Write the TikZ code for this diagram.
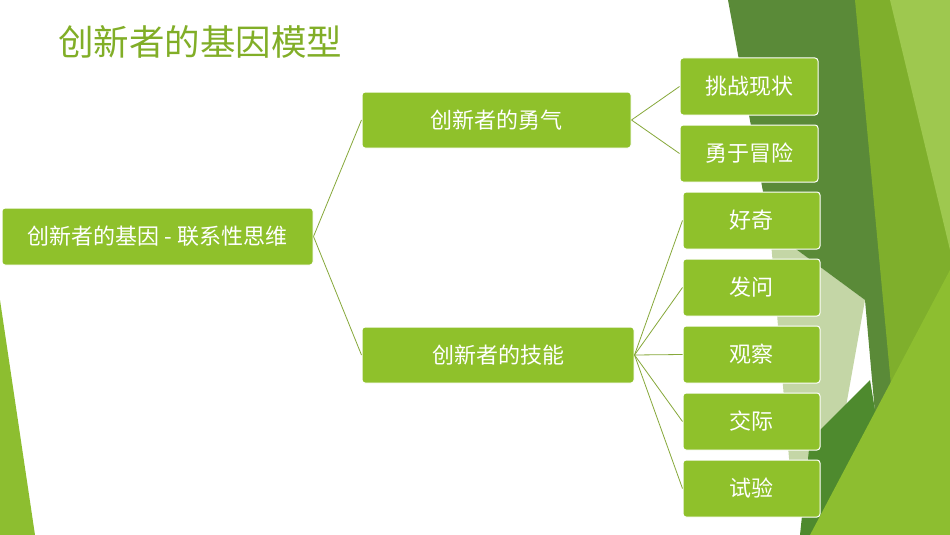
\documentclass[tikz,border=0pt]{standalone}
\usepackage{fontspec}
\setmainfont{Noto Sans CJK SC}
\begin{document}
\begin{tikzpicture}[x=1pt,y=-1pt,
  box/.style={draw=white,line width=1pt,fill=boxg,rounded corners=3pt,text=white,font=\fontsize{22}{26}\selectfont,inner sep=0pt},
  conn/.style={draw=lineg,line width=0.8pt}]
\definecolor{boxg}{HTML}{8FC12B}
\definecolor{lineg}{HTML}{86A83A}
\definecolor{dkg}{HTML}{5A8A38}
\definecolor{mdg}{HTML}{7FAF2C}
\definecolor{ltg}{HTML}{8DBE30}
\definecolor{pale}{HTML}{C4D6A6}
\definecolor{dkg2}{HTML}{4E8A2E}
\useasboundingbox (0,0) rectangle (950,535);
\fill[white] (0,0) rectangle (950,535);
% background
\fill[pale] (770,230) -- (865,300) -- (840,440) -- (790,470) -- cycle;
\fill[dkg] (728,0) -- (870,0) -- (905,535) -- (880,470) -- (865,300) -- (770,230) -- cycle;
\fill[mdg] (855,0) -- (950,0) -- (950,535) -- (905,535) -- cycle;
\fill[ltg!85!white] (890,0) -- (950,0) -- (950,250) -- cycle;
\fill[dkg2] (810,440) -- (870,380) -- (885,470) -- (830,535) -- (800,535) -- cycle;
\fill[ltg] (810,535) -- (950,270) -- (950,535) -- cycle;
\fill[ltg] (0,300) -- (35,535) -- (0,535) -- cycle;
% title
\node[anchor=west,text=boxg!90!black,font=\fontsize{35.5}{40}\selectfont,inner sep=0pt] (title) at (58,42) {创新者的基因模型};
% nodes
\node[box,minimum width=311,minimum height=57] (root) at (157.5,236.5) {创新者的基因 - 联系性思维};
\node[box,minimum width=269,minimum height=56] (cour) at (496.5,120) {创新者的勇气};
\node[box,minimum width=272,minimum height=56] (skill) at (498,355) {创新者的技能};
\node[box,minimum width=138,minimum height=57] (a1) at (749,86.5) {挑战现状};
\node[box,minimum width=138,minimum height=57] (a2) at (749,153.5) {勇于冒险};
\node[box,minimum width=137,minimum height=57] (b1) at (751.5,220.5) {好奇};
\node[box,minimum width=137,minimum height=57] (b2) at (751.5,287.5) {发问};
\node[box,minimum width=137,minimum height=57] (b3) at (751.5,354.5) {观察};
\node[box,minimum width=137,minimum height=57] (b4) at (751.5,421.5) {交际};
\node[box,minimum width=137,minimum height=57] (b5) at (751.5,488.5) {试验};
% connectors
\foreach \t in {cour,skill} \draw[conn] (root.east) -- (\t.west);
\foreach \t in {a1,a2} \draw[conn] (cour.east) -- (\t.west);
\foreach \t in {b1,b2,b3,b4,b5} \draw[conn] (skill.east) -- (\t.west);
\end{tikzpicture}
\end{document}
